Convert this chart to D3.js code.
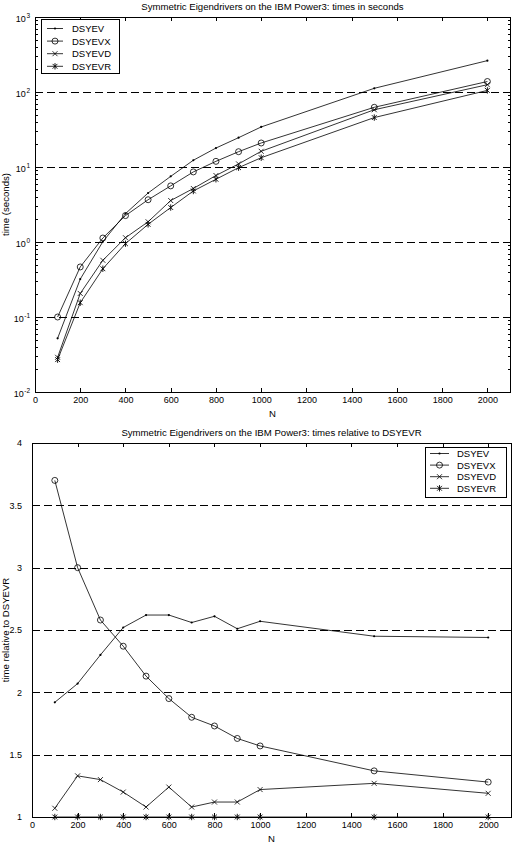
<!DOCTYPE html>
<html>
<head>
<meta charset="utf-8">
<script src="https://cdn.jsdelivr.net/npm/d3@7"></script>
<style>
  body { margin: 0; background: #fff; }
  svg { display: block; }
  text { font-family: "Liberation Sans", Arial, Helvetica, sans-serif; fill: #000; }
  .axis path, .axis line { stroke: #000; stroke-width: 1; shape-rendering: crispEdges; }
  .grid { stroke: #000; stroke-width: 1; stroke-dasharray: 8,4; shape-rendering: crispEdges; }
  .series { fill: none; stroke: #000; stroke-width: 0.8; }
</style>
</head>
<body>
<div class="canvas"></div>
<script>
// matrix sizes
const sizes = [100, 200, 300, 400, 500, 600, 700, 800, 900, 1000, 1500, 2000];

// times in seconds (top panel)
const timeEV  = [0.052, 0.32, 1.01, 2.39, 4.5, 7.5, 12.3, 17.9, 24.6, 34.2, 112, 262];
const timeEVX = [0.100, 0.465, 1.13, 2.25, 3.66, 5.6, 8.6, 11.9, 16.0, 20.9, 62.5, 138];
const timeEVD = [0.029, 0.206, 0.57, 1.14, 1.86, 3.57, 5.17, 7.7, 11.0, 16.2, 58, 125];
const timeEVR = [0.027, 0.155, 0.44, 0.95, 1.72, 2.88, 4.79, 6.86, 9.8, 13.3, 45.6, 105];

// times relative to DSYEVR (bottom panel)
const ratioEV  = [1.92, 2.07, 2.30, 2.52, 2.62, 2.62, 2.56, 2.61, 2.51, 2.57, 2.45, 2.44];
const ratioEVX = [3.70, 3.00, 2.58, 2.37, 2.13, 1.95, 1.80, 1.73, 1.63, 1.57, 1.37, 1.28];
const ratioEVD = [1.07, 1.33, 1.30, 1.20, 1.08, 1.24, 1.08, 1.12, 1.12, 1.22, 1.27, 1.19];
const ratioEVR = [1, 1, 1, 1, 1, 1, 1, 1, 1, 1, 1, 1];

const names = ['DSYEV', 'DSYEVX', 'DSYEVD', 'DSYEVR'];
const markers = ['dot', 'circle', 'cross', 'star'];

const xTicks = [0, 200, 400, 600, 800, 1000, 1200, 1400, 1600, 1800, 2000];
const topYTicks = [1e-2, 1e-1, 1e0, 1e1, 1e2, 1e3];
const topGrid = [1e-1, 1e0, 1e1, 1e2];
const botYTicks = [1, 1.5, 2, 2.5, 3, 3.5, 4];
const botGrid = [1.5, 2, 2.5, 3, 3.5];

const W = 512, H = 843;
const svg = d3.select('.canvas').append('svg')
  .attr('width', W)
  .attr('height', H);

// draw a marker symbol centred at 0,0
function drawMarker(g, type) {
  if (type === 'dot') {
    g.append('circle').attr('r', 1.1).attr('fill', '#000');
  } else if (type === 'circle') {
    g.append('circle').attr('r', 3).attr('fill', 'none').attr('stroke', '#000').attr('stroke-width', 0.8);
  } else if (type === 'cross') {
    g.append('path').attr('d', 'M-2.5,-2.5L2.5,2.5M-2.5,2.5L2.5,-2.5')
      .attr('stroke', '#000').attr('stroke-width', 0.8);
  } else if (type === 'star') {
    g.append('path').attr('d', 'M-2.4,-2.4L2.4,2.4M-2.4,2.4L2.4,-2.4M0,-3.2L0,3.2')
      .attr('stroke', '#000').attr('stroke-width', 0.9);
  }
}

function panel(opt) {
  const x = d3.scaleLinear().domain([0, 2100]).range([opt.l, opt.r]);
  const y = opt.y;
  const g = svg.append('g');

  // dashed grid lines
  g.selectAll('.grid').data(opt.grid).enter()
    .append('line')
    .attr('class', 'grid')
    .attr('x1', opt.l).attr('x2', opt.r)
    .attr('y1', d => Math.round(y(d)) + 0.5).attr('y2', d => Math.round(y(d)) + 0.5);

  // series
  const line = d3.line().x((d, i) => x(sizes[i])).y(d => y(d));
  opt.series.forEach((vals, k) => {
    g.append('path').attr('class', 'series').attr('d', line(vals));
    vals.forEach((v, i) => {
      const m = g.append('g').attr('transform', `translate(${x(sizes[i])},${y(v)})`);
      drawMarker(m, markers[k]);
    });
  });

  // axes, ticks pointing inward on all four sides
  const top = y.range()[1], bot = y.range()[0];
  g.append('g').attr('class', 'axis')
    .attr('transform', `translate(0,${bot})`)
    .call(d3.axisBottom(x).tickValues(xTicks).tickSize(-4).tickSizeOuter(0).tickPadding(5)
      .tickFormat(d3.format('d')));
  g.append('g').attr('class', 'axis')
    .attr('transform', `translate(0,${top})`)
    .call(d3.axisTop(x).tickValues(xTicks).tickSize(-4).tickSizeOuter(0).tickFormat(''));

  const leftAxis = d3.axisLeft(y).tickValues(opt.yTicks).tickSize(-4).tickSizeOuter(0).tickPadding(opt.yPad);
  const rightAxis = d3.axisRight(y).tickValues(opt.yTicks).tickSize(-4).tickSizeOuter(0).tickFormat('');
  if (opt.log) leftAxis.tickFormat('');
  else leftAxis.tickFormat(d => d3.format('')(d));

  const la = g.append('g').attr('class', 'axis').attr('transform', `translate(${opt.l},0)`).call(leftAxis);
  g.append('g').attr('class', 'axis').attr('transform', `translate(${opt.r},0)`).call(rightAxis);

  if (opt.log) {
    // minor log ticks
    const minor = y.ticks().filter(d => topYTicks.indexOf(d) < 0);
    g.append('g').attr('class', 'axis').attr('transform', `translate(${opt.l},0)`)
      .call(d3.axisLeft(y).tickValues(minor).tickSize(-2.5).tickSizeOuter(0).tickFormat(''))
      .select('.domain').remove();
    g.append('g').attr('class', 'axis').attr('transform', `translate(${opt.r},0)`)
      .call(d3.axisRight(y).tickValues(minor).tickSize(-2.5).tickSizeOuter(0).tickFormat(''))
      .select('.domain').remove();
    // power-of-ten labels
    la.selectAll('.tick').each(function (d) {
      const t = d3.select(this).append('text')
        .attr('x', -opt.yPad - 5).attr('dy', '0.45em')
        .attr('text-anchor', 'end').attr('font-size', 9);
      t.append('tspan').text('10');
      t.append('tspan').attr('font-size', 6.5).attr('dy', '-4').attr('dx', '0.5').text(Math.round(Math.log10(d)));
    });
  }
  g.selectAll('.axis text').attr('font-size', 9).attr('fill', '#000').style('font-family', null);

  // box closing line
  g.append('line').attr('class', 'axis').attr('x1', opt.l).attr('x2', opt.r)
    .attr('y1', top).attr('y2', top).attr('stroke', '#000').attr('shape-rendering', 'crispEdges');

  // titles and labels
  g.append('text').attr('x', (opt.l + opt.r) / 2).attr('y', top - 7)
    .attr('text-anchor', 'middle').attr('font-size', 9.6).text(opt.title);
  g.append('text').attr('x', (opt.l + opt.r) / 2).attr('y', bot + 25)
    .attr('text-anchor', 'middle').attr('font-size', 9.6).text('N');
  g.append('text')
    .attr('transform', `translate(9,${(top + bot) / 2}) rotate(-90)`)
    .attr('text-anchor', 'middle').attr('font-size', 9.6).text(opt.ylabel);

  // legend
  const L = opt.legend;
  const lg = g.append('g');
  lg.append('rect').attr('x', L.x0 + 0.5).attr('y', L.y0 + 0.5).attr('width', L.x1 - L.x0).attr('height', L.y1 - L.y0)
    .attr('fill', '#fff').attr('stroke', '#000').attr('stroke-width', 1).attr('shape-rendering', 'crispEdges');
  names.forEach((name, k) => {
    const yy = L.first + k * L.step;
    lg.append('line').attr('x1', L.lineA).attr('x2', L.lineB).attr('y1', yy).attr('y2', yy)
      .attr('stroke', '#000').attr('stroke-width', 0.8);
    drawMarker(lg.append('g').attr('transform', `translate(${(L.lineA + L.lineB) / 2},${yy})`), markers[k]);
    lg.append('text').attr('x', L.text).attr('y', yy + 3.5).attr('font-size', L.font).text(name);
  });
}

// top panel: absolute times, log scale
panel({
  l: 35, r: 510,
  y: d3.scaleLog().domain([1e-2, 1e3]).range([392, 17]),
  log: true,
  yTicks: topYTicks,
  grid: topGrid,
  yPad: 0,
  series: [timeEV, timeEVX, timeEVD, timeEVR],
  title: 'Symmetric Eigendrivers on the IBM Power3: times in seconds',
  ylabel: 'time (seconds)',
  legend: { x0: 41, x1: 119, y0: 19, y1: 73, first: 28.5, step: 12.6, lineA: 47, lineB: 63, text: 72, font: 9.5 }
});

// bottom panel: times relative to DSYEVR
panel({
  l: 32, r: 511,
  y: d3.scaleLinear().domain([1, 4]).range([817, 443]),
  log: false,
  yTicks: botYTicks,
  grid: botGrid,
  yPad: 10,
  series: [ratioEV, ratioEVX, ratioEVD, ratioEVR],
  title: 'Symmetric Eigendrivers on the IBM Power3: times relative to DSYEVR',
  ylabel: 'time relative to DSYEVR',
  legend: { x0: 425, x1: 506, y0: 447, y1: 497, first: 453.5, step: 11.6, lineA: 430, lineB: 449, text: 457, font: 9.5 }
});
</script>
</body>
</html>
